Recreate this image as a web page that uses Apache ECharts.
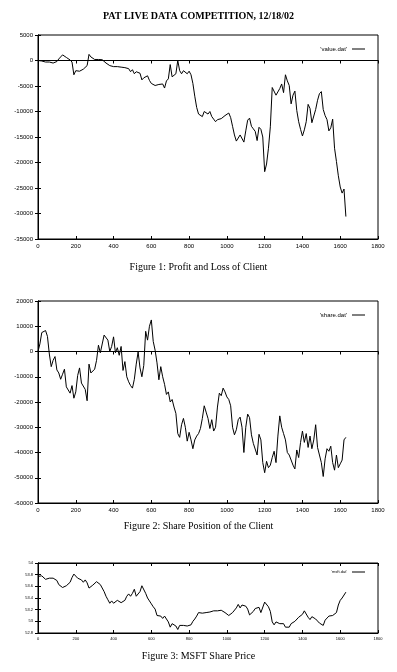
<!DOCTYPE html>
<html>
<head>
<meta charset="utf-8">
<script src="https://cdn.jsdelivr.net/npm/echarts@6/dist/echarts.min.js"></script>
<style>
  html, body { margin: 0; padding: 0; background: #fff; }
  #main { width: 397px; height: 672px; }
</style>
</head>
<body>
<div id="main"></div>
<script>
// time index, one sample every 10 units
var xs = [];
for (var t = 0; t <= 1630; t += 10) xs.push(t);

// Figure 1: profit and loss (value.dat)
var pnlValues = [
  0, 0, -100, -200, -300, -400, -300, -500, -500, -400,
  -200, 300, 700, 1100, 800, 600, 300, 100, -300, -2800,
  -2000, -2300, -2100, -1900, -1700, -1500, -1000, 1200, 700, 400,
  200, 200, 200, 250, 150, 0, -500, -800, -1000, -1100,
  -1200, -1200, -1200, -1300, -1300, -1300, -1400, -1500, -1600, -2200,
  -1800, -2600, -2200, -2300, -2500, -3800, -3400, -3300, -3000, -3900,
  -4500, -4800, -4900, -4800, -4700, -4400, -4600, -5400, -4000, -3600,
  -800, -3200, -3300, -2600, 0, -2000, -2600, -2000, -1800, -2600,
  -2100, -2800, -4500, -7000, -9200, -10500, -10800, -11000, -10000, -10200,
  -10500, -10000, -11000, -11500, -12000, -11600, -11800, -11400, -11200, -10800,
  -10600, -10300, -11200, -12900, -14600, -15800, -15600, -14600, -14800, -16000,
  -13800, -11700, -11300, -12900, -13400, -13900, -15700, -13100, -13500, -15000,
  -21800, -20300, -17200, -13000, -5300, -5300, -6800, -6700, -5500, -4600,
  -6300, -2800, -4000, -4900, -8500, -6800, -6000, -9800, -12000, -13500,
  -14800, -13600, -12000, -8600, -9400, -12200, -12000, -9600, -7800, -6500,
  -6100, -9600, -10800, -11600, -13800, -13200, -11500, -17200, -19800, -22600,
  -24800, -26000, -25200, -30600
];

// Figure 2: share position (share.dat)
var shareValues = [
  0, 3000, 7500, 7000, 8300, 6000, -1000, -6000, -3500, -2000,
  -7300, -8500, -11000, -9000, -7000, -14000, -14000, -16500, -13500, -18500,
  -16000, -9500, -6500, -12500, -12000, -15000, -19500, -5000, -8500, -9000,
  -7000, -3500, 2500, -500, -1000, 6500, 6500, 4500, 0, 2000,
  5800, -500, 1500, -1500, 2000, -7500, -4000, -10000, -12000, -13500,
  -14500, -11000, -5000, -200, -6500, -10000, -5500, 8000, 4500, 10000,
  12500, 4000, 500, -4500, -11200, -6000, -10000, -13000, -17000, -16000,
  -20000, -19000, -22000, -24500, -32500, -34000, -29000, -26500, -30000, -35500,
  -32000, -35000, -38500, -35000, -33500, -32500, -30500, -26500, -21500, -24000,
  -26500, -30500, -27000, -31500, -30000, -22000, -16500, -17500, -14500, -16000,
  -18000, -19000, -21500, -30000, -33000, -31000, -27000, -26000, -30000, -40000,
  -30000, -24800, -26200, -33000, -36400, -37000, -41000, -32800, -35000, -44000,
  -48000, -43500, -46000, -45000, -42000, -39500, -44000, -33500, -25500, -30000,
  -32500, -35000, -40000, -41000, -41000, -45000, -46500, -39000, -42000, -36000,
  -31500, -36000, -32500, -38000, -33500, -38500, -35000, -29000, -38000, -41000,
  -44000, -49500, -42500, -38500, -39500, -37500, -44000, -47000, -41000, -46000,
  -44500, -43000, -35000, -34000
];

// Figure 3: MSFT share price
var priceValues = [
  53.77, 53.80, 53.78, 53.75, 53.72, 53.73, 53.74, 53.77, 53.74, 53.73,
  53.70, 53.63, 53.61, 53.58, 53.59, 53.61, 53.62, 53.67, 53.75, 53.81,
  53.79, 53.74, 53.71, 53.71, 53.67, 53.71, 53.66, 53.57, 53.58, 53.62,
  53.65, 53.68, 53.65, 53.63, 53.61, 53.51, 53.43, 53.37, 53.31, 53.35,
  53.31, 53.33, 53.36, 53.38, 53.32, 53.33, 53.36, 53.43, 53.47, 53.43,
  53.48, 53.55, 53.43, 53.46, 53.51, 53.61, 53.59, 53.48, 53.40, 53.35,
  53.30, 53.25, 53.21, 53.10, 53.12, 53.09, 53.05, 53.09, 53.04, 52.99,
  52.90, 52.96, 52.94, 52.92, 52.86, 52.93, 52.92, 52.93, 52.92, 52.92,
  52.92, 52.94, 53.00, 53.04, 53.09, 53.15, 53.16, 53.14, 53.16, 53.15,
  53.13, 53.16, 53.16, 53.18, 53.17, 53.18, 53.21, 53.19, 53.17, 53.15,
  53.14, 53.10, 53.10, 53.15, 53.18, 53.23, 53.29, 53.23, 53.28, 53.26,
  53.26, 53.21, 53.11, 53.12, 53.17, 53.22, 53.21, 53.24, 53.15, 53.17,
  53.33, 53.30, 53.25, 53.17, 52.99, 52.94, 52.99, 53.00, 52.96, 52.94,
  52.96, 52.90, 52.87, 52.90, 52.96, 52.93, 53.00, 53.03, 53.07, 53.08,
  53.12, 53.18, 53.17, 53.07, 53.03, 53.08, 53.07, 53.04, 53.02, 52.97,
  52.99, 52.93, 53.02, 53.05, 53.09, 53.08, 53.10, 53.07, 53.15, 53.28,
  53.36, 53.40, 53.41, 53.50
];

var chartTitle = 'PAT LIVE DATA COMPETITION, 12/18/02';
var captions = ['Figure 1: Profit and Loss of Client', 'Figure 2: Share Position of the Client', 'Figure 3: MSFT Share Price'];
var legendNames = ["'value.dat'", "'share.dat'", "'msft.dat'"];

function pairs(vals) {
    var out = [];
    for (var i = 0; i < vals.length; i++) out.push([xs[i], vals[i]]);
    return out;
}

// gnuplot style numbers: no thousands separators, no trailing zeros
function plainNum(v) {
    return String(Math.round(v * 100) / 100);
}

var sansFont = '"Liberation Sans", Arial, sans-serif';
var serifFont = '"Liberation Serif", "Times New Roman", serif';

var grids = [
    { left: 38, right: 19, top: 35, height: 204 },
    { left: 38, right: 19, top: 301, height: 202 },
    { left: 38, right: 19, top: 563, height: 70 }
];
var yRanges = [
    { min: -35000, max: 5000, interval: 5000 },
    { min: -60000, max: 20000, interval: 10000 },
    { min: 52.8, max: 54, interval: 0.2 }
];
var labelSize = [6, 6, 4];

var xAxes = [], yAxes = [];
grids.forEach(function (g, i) {
    g.show = true;
    g.borderColor = '#000';
    g.borderWidth = 1;
    g.backgroundColor = 'transparent';
    var tick = { show: true, inside: true, length: 3, lineStyle: { color: '#000', width: 1 } };
    xAxes.push({
        type: 'value', gridIndex: i, min: 0, max: 1800, interval: 200,
        axisLine: { show: true, onZero: false, lineStyle: { color: '#000' } },
        axisTick: tick, splitLine: { show: false },
        axisLabel: { color: '#000', fontSize: labelSize[i], fontFamily: sansFont, margin: 4, formatter: plainNum }
    });
    xAxes.push({
        type: 'value', gridIndex: i, position: 'top', min: 0, max: 1800, interval: 200,
        axisLine: { show: true, lineStyle: { color: '#000' } },
        axisTick: tick, splitLine: { show: false }, axisLabel: { show: false }
    });
    yAxes.push({
        type: 'value', gridIndex: i, min: yRanges[i].min, max: yRanges[i].max, interval: yRanges[i].interval,
        axisLine: { show: true, onZero: false, lineStyle: { color: '#000' } },
        axisTick: tick, splitLine: { show: false },
        axisLabel: { color: '#000', fontSize: labelSize[i], fontFamily: sansFont, margin: 5, formatter: plainNum }
    });
    yAxes.push({
        type: 'value', gridIndex: i, position: 'right', min: yRanges[i].min, max: yRanges[i].max, interval: yRanges[i].interval,
        axisLine: { show: true, lineStyle: { color: '#000' } },
        axisTick: tick, splitLine: { show: false }, axisLabel: { show: false }
    });
});

var zeroLine = {
    silent: true, symbol: 'none', label: { show: false },
    lineStyle: { color: '#000', width: 1, type: [10, 2] },
    data: [{ yAxis: 0 }]
};

var allValues = [pnlValues, shareValues, priceValues];
var series = allValues.map(function (vals, i) {
    var s = {
        name: legendNames[i], type: 'line', xAxisIndex: i * 2, yAxisIndex: i * 2,
        data: pairs(vals), showSymbol: false, symbol: 'none', animation: false,
        lineStyle: { color: '#000', width: 1 }, itemStyle: { color: '#000' }
    };
    if (i < 2) s.markLine = zeroLine;
    return s;
});

var legendTops = [41, 307, 565];
var legends = legendNames.map(function (n, i) {
    return {
        data: [n], right: 27, top: legendTops[i], orient: 'vertical', align: 'right',
        icon: 'rect', itemWidth: 13, itemHeight: 1, itemGap: 4,
        textStyle: { color: '#000', fontSize: i < 2 ? 6 : 4, fontFamily: sansFont, padding: [0, 0, 0, 0] },
        selectedMode: false
    };
});

var captionTops = [257, 516, 646];
var titles = [{
    text: chartTitle, left: 'center', top: 6,
    textStyle: { color: '#000', fontSize: 10, fontWeight: 'bold', fontFamily: serifFont }
}];
captions.forEach(function (c, i) {
    titles.push({
        text: c, left: 'center', top: captionTops[i],
        textStyle: { color: '#000', fontSize: 10, fontWeight: 'normal', fontFamily: serifFont }
    });
});

var myChart = echarts.init(document.getElementById('main'), null, { renderer: 'canvas' });
myChart.setOption({
    backgroundColor: '#fff',
    animation: false,
    title: titles,
    legend: legends,
    grid: grids,
    xAxis: xAxes,
    yAxis: yAxes,
    series: series
});
</script>
</body>
</html>
